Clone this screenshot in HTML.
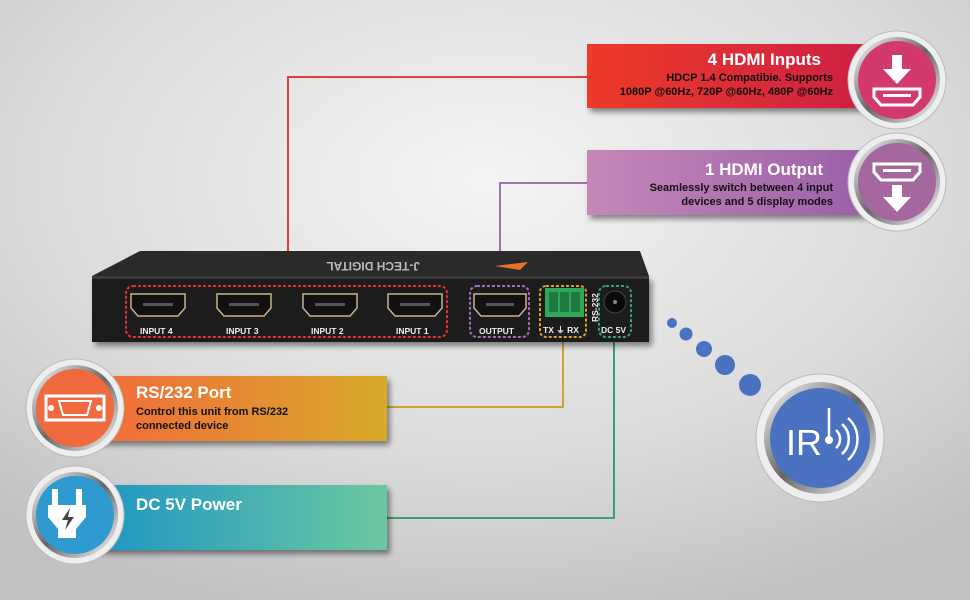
<!DOCTYPE html>
<html><head><meta charset="utf-8"><style>
html,body{margin:0;padding:0;width:970px;height:600px;overflow:hidden}
svg{display:block}
text{font-family:"Liberation Sans",Arial,sans-serif;font-weight:bold}
</style></head><body>
<svg width="970" height="600" viewBox="0 0 970 600" xmlns="http://www.w3.org/2000/svg">
<defs>
<radialGradient id="bg" cx="0.5" cy="0.3" r="0.75">
<stop offset="0" stop-color="#f4f4f4"/><stop offset="0.6" stop-color="#dcdcdc"/><stop offset="1" stop-color="#c2c2c2"/></radialGradient>
<linearGradient id="gr" x1="0" x2="1"><stop offset="0" stop-color="#ee3a28"/><stop offset="1" stop-color="#cc2044"/></linearGradient>
<linearGradient id="gp" x1="0" x2="1"><stop offset="0" stop-color="#c488b8"/><stop offset="1" stop-color="#9a5ea8"/></linearGradient>
<linearGradient id="go" x1="0" x2="1"><stop offset="0" stop-color="#f26a3a"/><stop offset="1" stop-color="#d8aa2a"/></linearGradient>
<linearGradient id="gt" x1="0" x2="1"><stop offset="0" stop-color="#1e96c4"/><stop offset="1" stop-color="#6cc8a0"/></linearGradient>
<linearGradient id="ring" x1="0" y1="0" x2="1" y2="1"><stop offset="0" stop-color="#ffffff"/><stop offset="0.5" stop-color="#666"/><stop offset="1" stop-color="#fff"/></linearGradient>
<filter id="sh" x="-10%" y="-20%" width="130%" height="160%"><feDropShadow dx="3" dy="4" stdDeviation="3" flood-opacity="0.45"/></filter>
</defs>
<rect width="970" height="600" fill="url(#bg)"/>

<polyline points="288,286 288,77 590,77" fill="none" stroke="#e0403a" stroke-width="2"/>
<polyline points="500,286 500,183 590,183" fill="none" stroke="#a070b0" stroke-width="2"/>
<polyline points="563,337 563,407 385,407" fill="none" stroke="#d4a030" stroke-width="2"/>
<polyline points="614,337 614,518 385,518" fill="none" stroke="#3aa070" stroke-width="2"/>

<polygon points="140,251 640,251 649,276 92,276" fill="#2a2a2a"/>
<rect x="92" y="276" width="557" height="66" fill="#1c1c1c" filter="url(#sh)"/>
<rect x="92" y="276" width="557" height="3" fill="#3a3a3a"/>
<polygon points="495,266 528,262 520,270" fill="#e8702a"/>
<text x="420" y="270" font-size="12" fill="#bbb" transform="rotate(180 420 266)">J-TECH DIGITAL</text>
<g fill="#111" stroke="#c9b48a" stroke-width="1.5">
<path d="M131,294 h54 v14 l-7,8 h-40 l-7,-8z"/>
<path d="M217,294 h54 v14 l-7,8 h-40 l-7,-8z"/>
<path d="M303,294 h54 v14 l-7,8 h-40 l-7,-8z"/>
<path d="M388,294 h54 v14 l-7,8 h-40 l-7,-8z"/>
<path d="M474,294 h52 v14 l-7,8 h-38 l-7,-8z"/>
</g>
<g fill="#555"><rect x="143" y="303" width="30" height="3"/><rect x="229" y="303" width="30" height="3"/><rect x="315" y="303" width="30" height="3"/><rect x="400" y="303" width="30" height="3"/><rect x="486" y="303" width="28" height="3"/></g>
<g font-size="8.5" fill="#eee">
<text x="140" y="334">INPUT 4</text><text x="226" y="334">INPUT 3</text><text x="311" y="334">INPUT 2</text><text x="396" y="334">INPUT 1</text><text x="479" y="334">OUTPUT</text>
<text x="543" y="333">TX ⏚ RX</text><text x="601" y="333">DC 5V</text>
<text x="598" y="322" transform="rotate(-90 598 322)">RS-232</text>
</g>
<rect x="545" y="288" width="39" height="29" fill="#2fa85a"/>
<g fill="#1f7a40"><rect x="549" y="292" width="9" height="20"/><rect x="560" y="292" width="9" height="20"/><rect x="571" y="292" width="9" height="20"/></g>
<circle cx="615" cy="302" r="11" fill="#0a0a0a" stroke="#444"/><circle cx="615" cy="302" r="2" fill="#888"/>
<g fill="none" stroke-width="2" stroke-dasharray="3,2">
<rect x="126" y="286" width="321" height="51" rx="7" stroke="#e83030"/>
<rect x="470" y="286" width="59" height="51" rx="7" stroke="#a070b0"/>
<rect x="540" y="286" width="46" height="51" rx="6" stroke="#d4a030"/>
<rect x="599" y="286" width="32" height="51" rx="7" stroke="#3aa070"/>
</g>

<rect x="587" y="44" width="290" height="64" fill="url(#gr)" filter="url(#sh)"/>
<text x="821" y="65" font-size="17" fill="#fff" text-anchor="end">4 HDMI Inputs</text>
<text x="833" y="81" font-size="11" fill="#111" text-anchor="end">HDCP 1.4 Compatibie.  Supports</text>
<text x="833" y="95" font-size="11" fill="#111" text-anchor="end">1080P @60Hz, 720P @60Hz, 480P @60Hz</text>
<rect x="587" y="150" width="290" height="65" fill="url(#gp)" filter="url(#sh)"/>
<text x="823" y="175" font-size="17" fill="#fff" text-anchor="end">1 HDMI Output</text>
<text x="833" y="191" font-size="11" fill="#111" text-anchor="end">Seamlessly switch between 4 input</text>
<text x="833" y="205" font-size="11" fill="#111" text-anchor="end">devices and 5 display modes</text>

<rect x="97" y="376" width="290" height="65" fill="url(#go)" filter="url(#sh)"/>
<text x="136" y="398" font-size="17" fill="#fff">RS/232 Port</text>
<text x="136" y="415" font-size="11" fill="#111">Control this unit from RS/232</text>
<text x="136" y="429" font-size="11" fill="#111">connected device</text>
<rect x="97" y="485" width="290" height="65" fill="url(#gt)" filter="url(#sh)"/>
<text x="136" y="510" font-size="17" fill="#fff">DC 5V Power</text>

<g>
<circle cx="897" cy="80" r="49" fill="#eee" stroke="#bbb"/><circle cx="897" cy="80" r="43" fill="url(#ring)"/><circle cx="897" cy="80" r="39" fill="#d23a6c"/>
<path d="M892,55 h10 v14 h9 l-14,15 l-14,-15 h9z" fill="#fff"/>
<path d="M874,89 h46 v8 l-7,8 h-32 l-7,-8z" fill="none" stroke="#fff" stroke-width="3"/><rect x="883" y="94" width="28" height="3" fill="#fff"/>
</g>
<g>
<circle cx="897" cy="182" r="49" fill="#eee" stroke="#bbb"/><circle cx="897" cy="182" r="43" fill="url(#ring)"/><circle cx="897" cy="182" r="39" fill="#a4689e"/>
<path d="M874,164 h46 v8 l-7,8 h-32 l-7,-8z" fill="none" stroke="#fff" stroke-width="3"/><rect x="883" y="169" width="28" height="3" fill="#fff"/>
<path d="M892,185 h10 v12 h9 l-14,15 l-14,-15 h9z" fill="#fff"/>
</g>
<g>
<circle cx="75" cy="408" r="49" fill="#eee" stroke="#bbb"/><circle cx="75" cy="408" r="43" fill="url(#ring)"/><circle cx="75" cy="408" r="39" fill="#f06a40"/>
<path d="M46,396 h58 v24 h-58z" fill="none" stroke="#fff" stroke-width="3"/>
<path d="M59,401 h32 l-4,14 h-24z" fill="none" stroke="#fff" stroke-width="2"/>
<circle cx="51" cy="408" r="3" fill="#fff"/><circle cx="99" cy="408" r="3" fill="#fff"/>
</g>
<g>
<circle cx="75" cy="515" r="49" fill="#eee" stroke="#bbb"/><circle cx="75" cy="515" r="43" fill="url(#ring)"/><circle cx="75" cy="515" r="39" fill="#2e9ad0"/>
<rect x="52" y="489" width="6" height="16" fill="#fff"/><rect x="76" y="489" width="6" height="16" fill="#fff"/>
<path d="M48,505 h38 v12 l-10,12 v9 h-18 v-9 l-10,-12z" fill="#fff"/>
<path d="M70,508 l-8,12 h6 l-3,10 l9,-13 h-6z" fill="#444"/>
</g>
<g fill="#4a72c0">
<circle cx="672" cy="323" r="5"/><circle cx="686" cy="334" r="6.5"/><circle cx="704" cy="349" r="8"/><circle cx="725" cy="365" r="10"/><circle cx="750" cy="385" r="11"/>
</g>
<g>
<circle cx="820" cy="438" r="64" fill="#eee" stroke="#bbb"/><circle cx="820" cy="438" r="56" fill="url(#ring)"/><circle cx="820" cy="438" r="50" fill="#4a72c0"/>
<text x="786" y="455" font-size="36" style="font-weight:normal" fill="#fff">IR</text>
<line x1="829" y1="408" x2="829" y2="438" stroke="#fff" stroke-width="2.5"/><circle cx="829" cy="440" r="4" fill="#fff"/>
<g fill="none" stroke="#fff" stroke-width="2.5">
<path d="M836,430 a12,12 0 0 1 0,18"/><path d="M842,424 a20,20 0 0 1 0,30"/><path d="M848,418 a28,28 0 0 1 0,42"/>
</g>
</g>
</svg>
</body></html>
